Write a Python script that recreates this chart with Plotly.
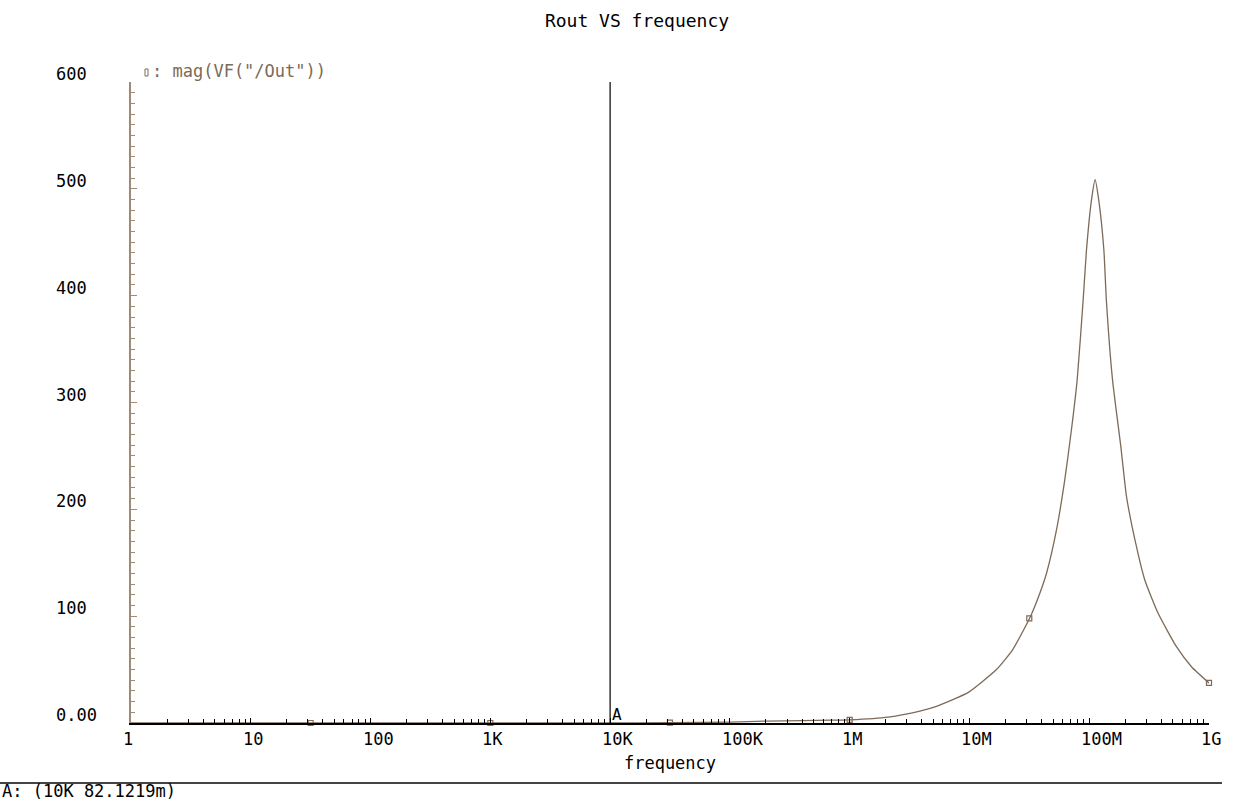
import math
import plotly.graph_objects as go

# ---------------- data ----------------
freq_hz = [1, 10, 100, 1e3, 1e4, 3.16e4, 1e5, 2e5, 4e5, 7e5, 1e6, 2.1e6, 3.86e6,
           5.3e6, 9.8e6, 1.68e7, 2.3e7, 3.24e7, 3.87e7, 4.4e7, 5.33e7, 6.25e7,
           7.1e7, 7.93e7, 8.9e7, 9.49e7, 1.045e8, 1.12e8, 1.2e8, 1.325e8, 1.39e8,
           1.566e8, 1.836e8, 2.048e8, 2.48e8, 2.91e8, 3.76e8, 5.35e8, 7.14e8, 1e9]
mag_vf_out = [8.2e-6, 8.2e-5, 8.2e-4, 8.2e-3, 0.0821219, 0.26, 0.8, 1.8, 2.3, 2.6,
              3.0, 5.6, 11.2, 15.6, 28.7, 50, 68.7, 100, 121.4, 140.2, 180.7, 227.5,
              274.3, 321, 396, 443, 489.7, 508.5, 489.7, 443, 396,
              321, 258.7, 211.9, 165, 133.9, 102.7, 71.4, 52.7, 37.5]

marker_freq = [31.6, 1e3, 3.16e4, 1e6, 3.16e7, 1e9]
marker_mag = [0.00026, 0.0082, 0.26, 3.0, 98, 37.5]

x_tick_vals = [1, 10, 100, 1e3, 1e4, 1e5, 1e6, 1e7, 1e8, 1e9]
x_tick_text = ["1", "10", "100", "1K", "10K", "100K", "1M", "10M", "100M", "1G"]
y_tick_vals = [0, 100, 200, 300, 400, 500, 600]
y_tick_text = ["0.00", "100", "200", "300", "400", "500", "600"]

trace_name = 'mag(VF("/Out"))'
chart_title = "Rout VS frequency"
x_title = "frequency"
cursor_freq = 1e4
cursor_label = "10K"
cursor_mag = 0.0821219

# ---------------- styling ----------------
FONT = "DejaVu Sans Mono"
FS = 17
BROWN = "#7d6a58"
AXBROWN = "#a08a76"
W, H = 1235, 804
ML, MR, MT, MB = 131, 26, 82, 81
PW = W - ML - MR
PH = H - MT - MB

fig = go.Figure()
fig.add_trace(go.Scatter(x=freq_hz, y=mag_vf_out, mode="lines", name=trace_name,
                         line=dict(color=BROWN, width=1.3, shape="spline", smoothing=0.5),
                         showlegend=False))
fig.add_trace(go.Scatter(x=marker_freq, y=marker_mag, mode="markers", showlegend=False,
                         marker=dict(symbol="square-open", size=5,
                                     color=BROWN, line=dict(color=BROWN, width=1.2)),
                         cliponaxis=False))
# cursor A
fig.add_trace(go.Scatter(x=[cursor_freq, cursor_freq], y=[y_tick_vals[0], y_tick_vals[-1]],
                         mode="lines", line=dict(color="black", width=1.2),
                         showlegend=False))

minor_x = [m * 10 ** d for d in range(0, 9) for m in range(2, 10)]

fig.update_xaxes(type="log", range=[math.log10(x_tick_vals[0]), math.log10(x_tick_vals[-1])],
                 showline=True, linecolor="black", linewidth=1.5,
                 showgrid=False, zeroline=False,
                 tickmode="array", tickvals=x_tick_vals, showticklabels=False,
                 ticks="inside", ticklen=5, tickcolor="black", tickwidth=1,
                 minor=dict(tickmode="array", tickvals=minor_x, ticks="inside",
                            ticklen=4, tickcolor="black", tickwidth=1, showgrid=False),
                 title=dict(text=x_title, font=dict(family=FONT, size=FS, color="black"),
                            standoff=33))
fig.update_yaxes(range=[y_tick_vals[0], y_tick_vals[-1]],
                 showline=True, linecolor=AXBROWN, linewidth=1.5,
                 showgrid=False, zeroline=False,
                 tickmode="array", tickvals=y_tick_vals, showticklabels=False,
                 ticks="inside", ticklen=6, tickcolor=AXBROWN, tickwidth=1,
                 minor=dict(dtick=10, ticks="inside", ticklen=4,
                            tickcolor=AXBROWN, tickwidth=1, showgrid=False))

annotations = []
for v, t in zip(x_tick_vals, x_tick_text):
    annotations.append(dict(x=math.log10(v), y=0, xref="x", yref="paper", text=t,
                            showarrow=False, xanchor="left", yanchor="top",
                            xshift=-10, yshift=-4,
                            font=dict(family=FONT, size=FS, color="black")))
for v, t in zip(y_tick_vals, y_tick_text):
    annotations.append(dict(x=0, y=v, xref="paper", yref="y", text=t,
                            showarrow=False, xanchor="left", yanchor="bottom",
                            xshift=-77, yshift=-4,
                            font=dict(family=FONT, size=FS, color="black")))
# legend label
annotations.append(dict(x=(150 - ML) / PW, y=(MT + PH - 71) / PH, xref="paper", yref="paper",
                        text=": " + trace_name, showarrow=False,
                        xanchor="left", yanchor="middle",
                        font=dict(family=FONT, size=FS, color=BROWN)))
# cursor marker label
annotations.append(dict(x=math.log10(cursor_freq), y=0, xref="x", yref="y", text="A",
                        showarrow=False, xanchor="left", yanchor="bottom",
                        xshift=0, yshift=-3,
                        font=dict(family=FONT, size=16, color="black")))
# cursor readout
annotations.append(dict(x=-ML / PW, y=(MT + PH - 791) / PH, xref="paper", yref="paper",
                        text=f"A: ({cursor_label} {cursor_mag * 1000:.4f}m)",
                        showarrow=False, xanchor="left", yanchor="middle",
                        font=dict(family=FONT, size=FS, color="black")))

shapes = [
    # separator line above cursor readout
    dict(type="line", xref="paper", yref="paper",
         x0=-ML / PW, x1=(1222 - ML) / PW,
         y0=(MT + PH - 783) / PH, y1=(MT + PH - 783) / PH,
         line=dict(color="#444444", width=2)),
    # legend marker box
    dict(type="rect", xref="paper", yref="paper",
         x0=(145 - ML) / PW, x1=(148 - ML) / PW,
         y0=(MT + PH - 76) / PH, y1=(MT + PH - 69) / PH,
         line=dict(color=BROWN, width=1)),
]

fig.update_layout(
    width=W, height=H,
    margin=dict(l=ML, r=MR, t=MT, b=MB),
    paper_bgcolor="white", plot_bgcolor="white",
    title=dict(text=chart_title, x=637 / W, xref="container", xanchor="center",
               y=1 - 21 / H, yref="container", yanchor="middle",
               font=dict(family=FONT, size=18, color="black")),
    annotations=annotations, shapes=shapes,
    showlegend=False,
)

fig.write_html("out.html")
